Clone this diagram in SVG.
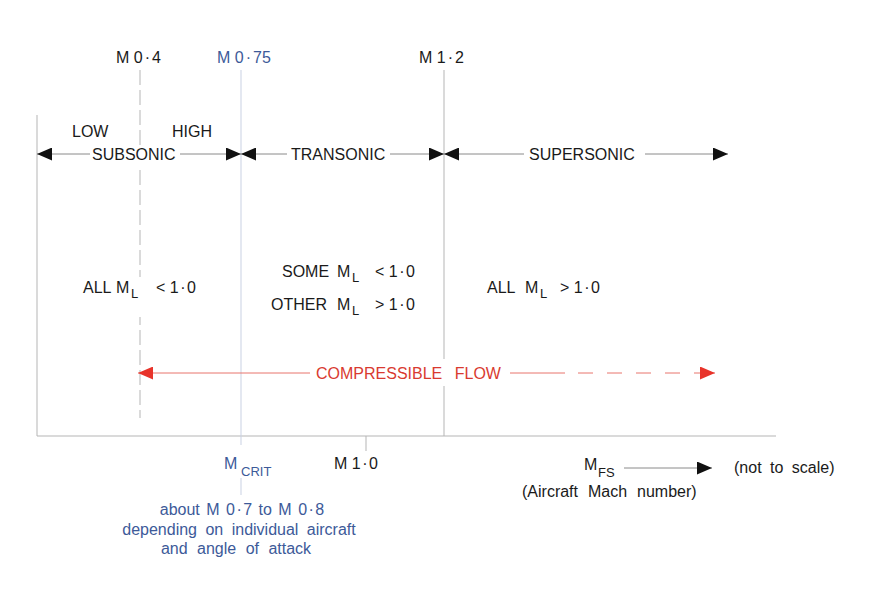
<svg xmlns="http://www.w3.org/2000/svg" width="882" height="605" viewBox="0 0 882 605">
<style>
text{font-family:"Liberation Sans",Arial,sans-serif;font-size:16px;fill:#1a1a1a}
.b{fill:#3d5a99}
.r{fill:#d93a30}
.sub{font-size:13px}
.grid{stroke:#b5b5b5;stroke-width:1;fill:none}
.dash{stroke:#b5b5b5;stroke-width:1;stroke-dasharray:15 5;fill:none}
.blue{stroke:#c9d1e3;stroke-width:1;fill:none}
.arr{stroke:#8a8a8a;stroke-width:1;fill:none}
.red{stroke:#e8756d;stroke-width:1;fill:none}
.bg{fill:#ffffff}
</style>
<defs>
<marker id="ah" markerUnits="userSpaceOnUse" markerWidth="15" markerHeight="13" refX="15" refY="6.5" orient="auto" viewBox="0 0 15 13">
<path d="M0,0 L15,6.5 L0,13 z" fill="#111"/>
</marker>
<marker id="ahr" markerUnits="userSpaceOnUse" markerWidth="15" markerHeight="13" refX="15" refY="6.5" orient="auto" viewBox="0 0 15 13">
<path d="M0,0 L15,6.5 L0,13 z" fill="#e8332a"/>
</marker>
</defs>
<rect width="882" height="605" fill="#fff"/>
<g id="connectors">
<line class="grid" x1="37" y1="115" x2="37" y2="436"/>
<line class="grid" x1="37" y1="436" x2="776" y2="436"/>
<line class="dash" x1="140" y1="70" x2="140" y2="418"/>
<line class="blue" x1="241" y1="70" x2="241" y2="445"/>
<line class="blue" x1="241" y1="478" x2="241" y2="495"/>
<line class="grid" x1="444" y1="70" x2="444" y2="436"/>
<line class="grid" x1="366" y1="436" x2="366" y2="451"/>
<line class="arr" x1="92" y1="154" x2="37" y2="154" marker-end="url(#ah)"/>
<line class="arr" x1="180" y1="154" x2="241" y2="154" marker-end="url(#ah)"/>
<line class="arr" x1="287" y1="154" x2="241" y2="154" marker-end="url(#ah)"/>
<line class="arr" x1="390" y1="154" x2="444" y2="154" marker-end="url(#ah)"/>
<line class="arr" x1="524" y1="154" x2="444" y2="154" marker-end="url(#ah)"/>
<line class="arr" x1="645" y1="154" x2="728" y2="154" marker-end="url(#ah)"/>
<line class="red" x1="310" y1="373" x2="138" y2="373" marker-end="url(#ahr)"/>
<line class="red" x1="510" y1="373" x2="565" y2="373"/>
<line class="red" x1="578" y1="373" x2="700" y2="373" stroke-dasharray="15 14"/>
<line class="red" x1="700" y1="373" x2="715" y2="373" marker-end="url(#ahr)"/>
<line class="arr" x1="624" y1="468" x2="712" y2="468" marker-end="url(#ah)"/>
</g>
<g id="m04"><text x="116" y="63">M 0<tspan dx="2">·</tspan><tspan dx="2">4</tspan></text></g>
<g id="m075"><text class="b" x="217" y="63">M 0<tspan dx="2">·</tspan><tspan dx="2">75</tspan></text></g>
<g id="m12"><text x="419" y="63">M 1<tspan dx="2">·</tspan><tspan dx="2">2</tspan></text></g>
<g id="low"><text x="72" y="137">LOW</text></g>
<g id="high"><text x="172" y="137">HIGH</text></g>
<g id="subsonic"><rect class="bg" x="90" y="145" width="90" height="22"/><text x="92" y="160">SUBSONIC</text></g>
<g id="transonic"><text x="291" y="160">TRANSONIC</text></g>
<g id="supersonic"><text x="529" y="160">SUPERSONIC</text></g>
<g id="all-sub"><rect class="bg" x="80" y="277" width="120" height="40"/><text x="83" y="293">ALL</text><text x="116" y="293">M</text><text class="sub" x="131" y="298">L</text><text x="156" y="293">&lt; 1<tspan dx="1.5">·</tspan><tspan dx="1.5">0</tspan></text></g>
<g id="some"><text x="282" y="277">SOME</text><text x="337" y="277">M</text><text class="sub" x="352" y="282">L</text><text x="375" y="277">&lt; 1<tspan dx="1.5">·</tspan><tspan dx="1.5">0</tspan></text></g>
<g id="other"><text x="271" y="310">OTHER</text><text x="337" y="310">M</text><text class="sub" x="352" y="315">L</text><text x="375" y="310">&gt; 1<tspan dx="1.5">·</tspan><tspan dx="1.5">0</tspan></text></g>
<g id="all-super"><text x="487" y="293">ALL</text><text x="525" y="293">M</text><text class="sub" x="540" y="298">L</text><text x="560" y="293">&gt; 1<tspan dx="1.5">·</tspan><tspan dx="1.5">0</tspan></text></g>
<g id="compressible"><rect class="bg" x="312" y="359" width="193" height="27"/><text class="r" x="316" y="379" word-spacing="8">COMPRESSIBLE FLOW</text></g>
<g id="mcrit"><rect class="bg" x="222" y="446" width="52" height="31"/><text class="b" x="224" y="469">M</text><text class="b sub" x="241" y="476">CRIT</text></g>
<g id="m10"><text x="334" y="469">M 1<tspan dx="1.5">·</tspan><tspan dx="1.5">0</tspan></text></g>
<g id="mfs"><text x="584" y="470">M</text><text class="sub" x="598" y="477">FS</text></g>
<g id="aircraft"><text x="522" y="497" word-spacing="5.5">(Aircraft Mach number)</text></g>
<g id="scale"><text x="734" y="473" word-spacing="4">(not to scale)</text></g>
<g id="crit-note">
<text class="b" x="242" y="515" text-anchor="middle" word-spacing="2">about M 0<tspan dx="1.5">·</tspan><tspan dx="1.5">7</tspan> to M 0<tspan dx="1.5">·</tspan><tspan dx="1.5">8</tspan></text>
<text class="b" x="239" y="535" text-anchor="middle" word-spacing="4">depending on individual aircraft</text>
<text class="b" x="236" y="554" text-anchor="middle" word-spacing="5">and angle of attack</text>
</g>
</svg>
